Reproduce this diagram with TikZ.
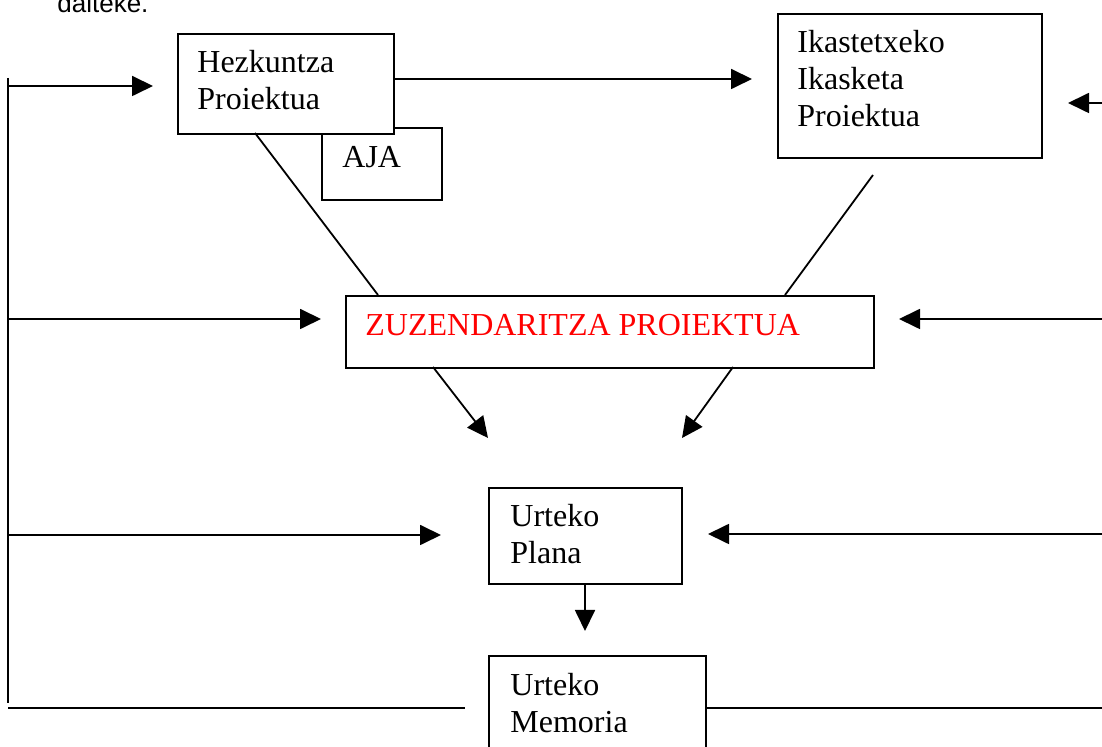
\documentclass[tikz,border=0pt]{standalone}
\usepackage{fontspec}
\setmainfont{Liberation Serif}
\newfontfamily\arialf{Liberation Sans}
\usetikzlibrary{arrows.meta}
\begin{document}
\begin{tikzpicture}[x=0.5pt,y=-0.5pt,
  box/.style={draw, line width=1pt, fill=white, anchor=north west, inner sep=0pt},
  lbl/.style={anchor=base west, align=left, inner sep=0pt, font=\fontsize{16}{18.5}\selectfont},
  conn/.style={line width=0.9pt},
  arr/.style={conn, -{Triangle[length=10.5pt,width=10pt]}}]
\clip (0,0) rectangle (1102,747);
\fill[white] (0,0) rectangle (1102,747);
% top text
\node[anchor=base west, inner sep=0pt, font=\arialf\fontsize{13}{15}\selectfont] (top) at (57,12.5) {daiteke.};
% boxes
\node[box, minimum width=60pt, minimum height=36pt] (aja) at (321,127) {};
\node[box, minimum width=108pt, minimum height=50pt] (hez) at (177,33) {};
\node[box, minimum width=132pt, minimum height=72pt] (ika) at (777,13) {};
% diagonals to ZUZ
\coordinate (d1) at (255,133); \coordinate (d2) at (378,295);
\coordinate (d3) at (873,175); \coordinate (d4) at (785,295);
\draw[conn] (d1) -- (d2);
\draw[conn] (d3) -- (d4);
\node[box, minimum width=264pt, minimum height=36pt] (zuz) at (345,295) {};
\node[box, minimum width=96.5pt, minimum height=48pt] (pla) at (488,487) {};
\node[box, minimum width=108.5pt, minimum height=60pt] (mem) at (488,655) {};
% texts (anchor = baseline of the last line)
\node[lbl] (hezt) at (197,110) {Hezkuntza\\Proiektua};
\node[lbl] (ajat) at (342,168) {AJA};
\node[lbl] (ikat) at (797,127) {Ikastetxeko\\Ikasketa\\Proiektua};
\node[lbl, text=red] (zuzt) at (365,336) {ZUZENDARITZA PROIEKTUA};
\node[lbl] (plat) at (510,564) {Urteko\\Plana};
\node[lbl] (memt) at (510,732) {Urteko\\Memoria};
% left bus
\coordinate (lt) at (8,78); \coordinate (lb) at (8,703);
\draw[conn] (lt) -- (lb);
\coordinate (l1) at (8,86); \coordinate (l2) at (8,319); \coordinate (l3) at (8,535);
\draw[arr, shorten >=12pt] (l1) -- (l1 -| hez.west);
\draw[arr, shorten >=12pt] (l2) -- (l2 -| zuz.west);
\draw[arr, shorten >=23.5pt] (l3) -- (l3 -| pla.west);
% bottom line
\coordinate (b1) at (8,708); \coordinate (b2) at (465,708); \coordinate (r0) at (1102,708);
\draw[conn] (b1) -- (b2);
\draw[conn] (mem.east |- r0) -- (r0);
% right arrows
\coordinate (r1) at (1102,103); \coordinate (r2) at (1102,319); \coordinate (r3) at (1102,534);
\draw[arr, shorten >=12.5pt] (r1) -- (r1 -| ika.east);
\draw[arr, shorten >=12pt] (r2) -- (r2 -| zuz.east);
\draw[arr, shorten >=12.5pt] (r3) -- (r3 -| pla.east);
% hez -> ika
\coordinate (h1) at (393,79);
\draw[arr, shorten >=12.5pt] (hez.east |- h1) -- (ika.west |- h1);
% zuz -> pla
\coordinate (z1) at (433,367); \coordinate (z2) at (488,438);
\coordinate (z3) at (733,367); \coordinate (z4) at (682,438);
\draw[arr] (z1) -- (z2);
\draw[arr] (z3) -- (z4);
% pla -> mem
\coordinate (p1) at (585,631);
\draw[arr] (pla.south -| p1) -- (p1);
\end{tikzpicture}
\end{document}
